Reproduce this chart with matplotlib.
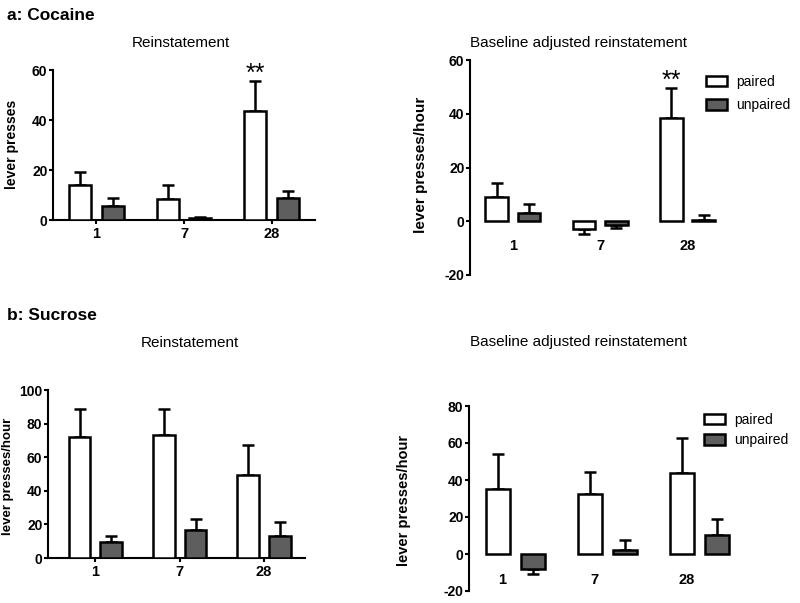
import matplotlib
matplotlib.use('Agg')
import matplotlib.pyplot as plt
from matplotlib.transforms import offset_copy
import numpy as np

plt.rcParams['font.family'] = ['Liberation Sans', 'DejaVu Sans']

days = ['1', '7', '28']

# a: Cocaine - Reinstatement (lever presses)
coc_reinst_paired = [14.0, 8.3, 43.6]
coc_reinst_paired_sem = [5.2, 5.7, 12.0]
coc_reinst_unpaired = [5.7, 0.7, 8.7]
coc_reinst_unpaired_sem = [3.0, 0.4, 3.0]

# a: Cocaine - Baseline adjusted reinstatement
coc_adj_paired = [9.1, -2.9, 38.3]
coc_adj_paired_sem = [5.2, 1.7, 11.4]
coc_adj_unpaired = [3.2, -1.5, 0.6]
coc_adj_unpaired_sem = [3.4, 0.9, 1.9]

# b: Sucrose - Reinstatement
suc_reinst_paired = [71.9, 73.3, 49.3]
suc_reinst_paired_sem = [16.8, 15.2, 17.8]
suc_reinst_unpaired = [9.3, 16.8, 13.3]
suc_reinst_unpaired_sem = [3.6, 6.6, 7.9]

# b: Sucrose - Baseline adjusted reinstatement
suc_adj_paired = [35.1, 32.3, 44.0]
suc_adj_paired_sem = [18.8, 12.0, 18.5]
suc_adj_unpaired = [-7.9, 2.2, 10.3]
suc_adj_unpaired_sem = [2.9, 5.4, 8.4]

W, H = 800, 603
fig = plt.figure(figsize=(W / 100, H / 100), dpi=100)

GRAY = '#5e5e5e'
LW = 1.8


def fx(x):
    return x / W


def fy(y):
    return 1 - y / H


def make_ax(left, top, right, bottom, xlim, ylim, yticks):
    ax = fig.add_axes([fx(left), fy(bottom), (right - left) / W, (bottom - top) / H])
    ax.set_xlim(*xlim)
    ax.set_ylim(*ylim)
    for s in ['top', 'right']:
        ax.spines[s].set_visible(False)
    ax.spines['left'].set_linewidth(1.5)
    ax.spines['bottom'].set_linewidth(1.5)
    ax.set_yticks(yticks)
    ax.set_yticklabels([str(t) for t in yticks], fontweight='bold', fontsize=10)
    ax.tick_params(axis='y', direction='out', length=3, width=1.5, pad=1)
    ax.patch.set_alpha(0)
    return ax


def draw(ax, paired, psem, unpaired, usem, off, width):
    x = np.arange(len(days))
    handles = []
    for vals, sems, color, o, lab in [(paired, psem, 'white', -off, 'paired'),
                                      (unpaired, usem, GRAY, off, 'unpaired')]:
        vals = np.array(vals)
        sems = np.array(sems)
        b = ax.bar(x + o, vals, width, color=color, edgecolor='black', linewidth=LW,
                   zorder=3, label=lab)
        upper = np.where(vals >= 0, sems, 0)
        lower = np.where(vals < 0, sems, 0)
        ax.errorbar(x + o, vals, yerr=[lower, upper], fmt='none', ecolor='black',
                    elinewidth=LW, capsize=4.5, capthick=LW, zorder=2)
        handles.append(b)
    return handles


def stars(ax, xpos, tip):
    tr = offset_copy(ax.transData, fig=fig, y=0, units='points')
    ax.text(xpos, tip, '**', transform=tr, ha='center', va='baseline',
            fontsize=18)


# ---------------- a: Cocaine, Reinstatement ----------------
ax1 = make_ax(53, 70, 315, 220, (-0.495, 2.495), (0, 60), [0, 20, 40, 60])
draw(ax1, coc_reinst_paired, coc_reinst_paired_sem, coc_reinst_unpaired,
     coc_reinst_unpaired_sem, 0.186, 0.255)
ax1.set_xticks(np.arange(3))
ax1.set_xticklabels(days, fontweight='bold', fontsize=10.5)
ax1.tick_params(axis='x', direction='out', length=3, width=1.5, pad=2)
ax1.set_ylabel('lever presses', fontweight='bold', fontsize=10)
ax1.yaxis.set_label_coords(fx(19), fy(144), transform=fig.transFigure)
stars(ax1, 2 - 0.186, coc_reinst_paired[2] + coc_reinst_paired_sem[2])

# ---------------- a: Cocaine, Baseline adjusted ----------------
ax2 = make_ax(470, 60, 732, 275, (-0.49, 2.51), (-20, 60), [-20, 0, 20, 40, 60])
h2 = draw(ax2, coc_adj_paired, coc_adj_paired_sem, coc_adj_unpaired,
          coc_adj_unpaired_sem, 0.184, 0.26)
ax2.spines['bottom'].set_position(('data', 0))
ax2.spines['bottom'].set_visible(False)
ax2.set_xticks(np.arange(3))
ax2.set_xticklabels(days, fontweight='bold', fontsize=10.5)
ax2.tick_params(axis='x', length=0, pad=12.5)
ax2.set_ylabel('lever presses/hour', fontweight='bold', fontsize=11)
ax2.yaxis.set_label_coords(fx(428), fy(165), transform=fig.transFigure)
stars(ax2, 2 - 0.184, coc_adj_paired[2] + coc_adj_paired_sem[2])
ax2.legend(handles=h2, loc='upper left', bbox_to_anchor=(fx(706), fy(75)),
           bbox_transform=fig.transFigure, frameon=False, fontsize=10,
           handlelength=1.5, handleheight=0.8, handletextpad=0.7,
           labelspacing=0.65, borderpad=0, borderaxespad=0)

# ---------------- b: Sucrose, Reinstatement ----------------
ax3 = make_ax(48, 390, 305, 558, (-0.563, 2.486), (0, 100), [0, 20, 40, 60, 80, 100])
draw(ax3, suc_reinst_paired, suc_reinst_paired_sem, suc_reinst_unpaired,
     suc_reinst_unpaired_sem, 0.188, 0.258)
ax3.set_xticks(np.arange(3))
ax3.set_xticklabels(days, fontweight='bold', fontsize=10.5)
ax3.tick_params(axis='x', direction='out', length=3, width=1.5, pad=2)
ax3.set_ylabel('lever presses/hour', fontweight='bold', fontsize=9.5)
ax3.yaxis.set_label_coords(fx(14), fy(476), transform=fig.transFigure)

# ---------------- b: Sucrose, Baseline adjusted ----------------
ax4 = make_ax(469, 406, 746, 591, (-0.503, 2.5), (-20, 80), [-20, 0, 20, 40, 60, 80])
h4 = draw(ax4, suc_adj_paired, suc_adj_paired_sem, suc_adj_unpaired,
          suc_adj_unpaired_sem, 0.19, 0.26)
ax4.spines['bottom'].set_position(('data', 0))
ax4.spines['bottom'].set_visible(False)
ax4.set_xticks(np.arange(3) - 0.14)
ax4.set_xticklabels(days, fontweight='bold', fontsize=10.5)
ax4.tick_params(axis='x', length=0, pad=13.5)
ax4.set_ylabel('lever presses/hour', fontweight='bold', fontsize=10.5)
ax4.yaxis.set_label_coords(fx(411), fy(500), transform=fig.transFigure)
ax4.legend(handles=h4, loc='upper left', bbox_to_anchor=(fx(704), fy(413)),
           bbox_transform=fig.transFigure, frameon=False, fontsize=10,
           handlelength=1.5, handleheight=0.8, handletextpad=0.7,
           labelspacing=0.45, borderpad=0, borderaxespad=0)

# ---------------- titles ----------------
fig.text(fx(7), fy(15), 'a: Cocaine', fontweight='bold', fontsize=12.5, va='center', ha='left')
fig.text(fx(7), fy(315), 'b: Sucrose', fontweight='bold', fontsize=12.5, va='center', ha='left')
fig.text(fx(181), fy(43), 'Reinstatement', fontsize=11, ha='center', va='center')
fig.text(fx(578), fy(43), 'Baseline adjusted reinstatement', fontsize=11, ha='center', va='center')
fig.text(fx(190), fy(343), 'Reinstatement', fontsize=11, ha='center', va='center')
fig.text(fx(578), fy(342), 'Baseline adjusted reinstatement', fontsize=11, ha='center', va='center')

fig.savefig('out.png', dpi=100)
